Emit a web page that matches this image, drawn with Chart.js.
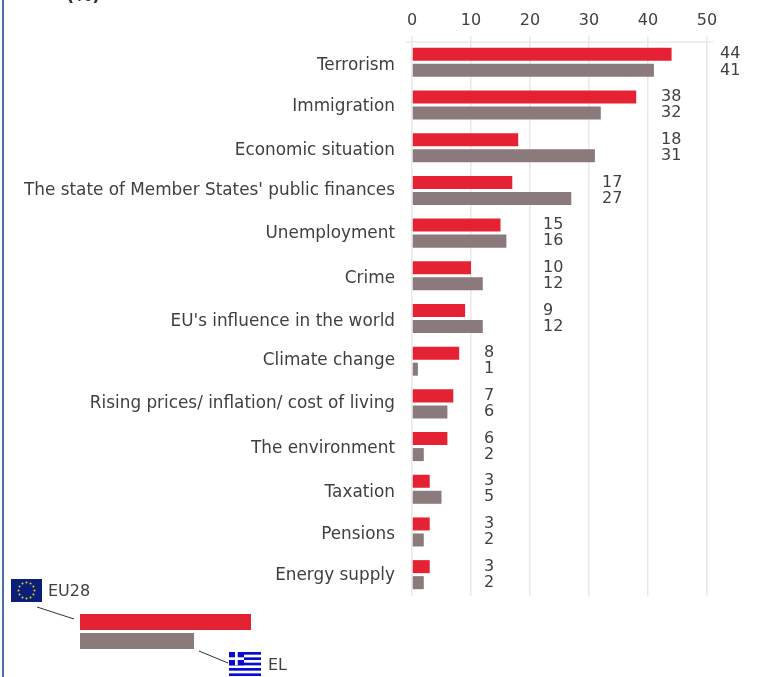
<!DOCTYPE html>
<html>
<head>
<meta charset="utf-8">
<script src="https://cdn.jsdelivr.net/npm/chart.js@4"></script>
<style>
  html, body { margin: 0; padding: 0; background: #fff; overflow: hidden; }
  canvas { display: block; }
</style>
</head>
<body>
<canvas id="topicsChart" width="760" height="677"></canvas>
<script>
const categories = ['Terrorism', 'Immigration', 'Economic situation', "The state of Member States' public finances",
    'Unemployment', 'Crime', "EU's influence in the world", 'Climate change',
    'Rising prices/ inflation/ cost of living', 'The environment', 'Taxation', 'Pensions', 'Energy supply'];
const eu28Values = [44, 38, 18, 17, 15, 10, 9, 8, 7, 6, 3, 3, 3];
const elValues = [41, 32, 31, 27, 16, 12, 12, 1, 6, 2, 5, 2, 2];
const xTicks = [0, 10, 20, 30, 40, 50];
const seriesNames = ['EU28', 'EL'];
const unitLabel = '(%)';

const RED = '#e52233';
const GREY = '#8a7a7c';
const TEXT = '#404040';
const GRID = '#e8e8e8';
const FONT = '"DejaVu Sans", sans-serif';

// the category labels in the original do not sit exactly on the row centres
const labelNudge = [3, 2, 3, 0, 1, 3, 3, -1, 0, 2, 3, 3, 1];

// the value labels sit in stepped columns, next ten above the longer bar
function labelColumn(i) {
    return Math.ceil(Math.max(eu28Values[i], elValues[i]) / 10) * 10 + 2.2;
}

const valueLabels = {
    id: 'valueLabels',
    afterDatasetsDraw(chart) {
        const ctx = chart.ctx;
        ctx.save();
        ctx.font = '16px ' + FONT;
        ctx.fillStyle = TEXT;
        ctx.textAlign = 'left';
        ctx.textBaseline = 'middle';
        chart.data.datasets.forEach((ds, d) => {
            chart.getDatasetMeta(d).data.forEach((bar, i) => {
                ctx.fillText(ds.data[i], chart.scales.x.getPixelForValue(labelColumn(i)), bar.y);
            });
        });
        // category labels
        ctx.font = '16.85px ' + FONT;
        ctx.textAlign = 'right';
        categories.forEach((name, i) => {
            ctx.fillText(name, chart.scales.x.left - 17, chart.scales.y.getPixelForValue(i) + labelNudge[i]);
        });
        ctx.restore();
    }
};

const decorations = {
    id: 'decorations',
    beforeDatasetsDraw(chart) {
        // axis rule overshoots the plot on both sides
        const ctx = chart.ctx, s = chart.scales.x;
        ctx.save();
        ctx.strokeStyle = GRID;
        ctx.lineWidth = 1.5;
        ctx.beginPath();
        ctx.moveTo(s.left - 6, chart.chartArea.top + 1);
        ctx.lineTo(s.right + 6, chart.chartArea.top + 1);
        ctx.stroke();
        ctx.restore();
    },
    afterDraw(chart) {
        const ctx = chart.ctx;
        ctx.save();
        // page frame
        ctx.fillStyle = '#4a6ea5';
        ctx.fillRect(2, 0, 2, 677);
        // clipped title unit
        ctx.fillStyle = '#333';
        ctx.font = 'bold 18px ' + FONT;
        ctx.textAlign = 'left';
        ctx.textBaseline = 'alphabetic';
        ctx.fillText(unitLabel, 66, 1);
        // key
        ctx.fillStyle = RED;
        ctx.fillRect(80, 614, 171, 16);
        ctx.fillStyle = GREY;
        ctx.fillRect(80, 633, 114, 16);
        ctx.strokeStyle = '#333';
        ctx.lineWidth = 1;
        ctx.beginPath();
        ctx.moveTo(37, 607); ctx.lineTo(74, 619);
        ctx.moveTo(199, 651); ctx.lineTo(228, 663);
        ctx.stroke();
        // EU flag
        ctx.fillStyle = '#0b1f7a';
        ctx.fillRect(11, 579, 31, 23);
        ctx.fillStyle = '#e8d020';
        for (let k = 0; k < 12; k++) {
            const a = k * Math.PI / 6;
            ctx.beginPath();
            ctx.arc(26.5 + 8 * Math.cos(a), 590.5 + 8 * Math.sin(a), 1, 0, 7);
            ctx.fill();
        }
        // Greek flag
        ctx.fillStyle = '#0a0ad0';
        for (let k = 0; k < 5; k++) ctx.fillRect(229, 652 + k * 5.34, 32, 2.67);
        ctx.fillRect(229, 652, 15, 13.3);
        ctx.fillStyle = '#fff';
        ctx.fillRect(235, 652, 2.7, 13.3);
        ctx.fillRect(229, 657.3, 15, 2.7);
        // key text
        ctx.fillStyle = TEXT;
        ctx.font = '16px ' + FONT;
        ctx.textBaseline = 'middle';
        ctx.fillText(seriesNames[0], 48, 592);
        ctx.fillText(seriesNames[1], 268, 666);
        ctx.restore();
    }
};

new Chart(document.getElementById('topicsChart'), {
    type: 'bar',
    data: {
        labels: categories,
        datasets: [
            { label: seriesNames[0], data: eu28Values, backgroundColor: RED },
            { label: seriesNames[1], data: elValues, backgroundColor: GREY }
        ]
    },
    options: {
        indexAxis: 'y',
        responsive: false,
        animation: false,
        categoryPercentage: 0.751,
        barPercentage: 0.8125,
        layout: { padding: { left: 0, right: 53, top: 0, bottom: 81 } },
        plugins: { legend: { display: false }, tooltip: { enabled: false } },
        scales: {
            x: {
                position: 'top',
                min: 0,
                max: 50,
                afterFit(scale) { scale.height = 41; },
                afterBuildTicks(scale) { scale.ticks = xTicks.map(v => ({ value: v })); },
                border: { display: false },
                grid: { color: GRID, lineWidth: 1.5, tickLength: 5 },
                ticks: { color: TEXT, font: { family: FONT, size: 16 }, padding: 6, maxRotation: 0 }
            },
            y: {
                afterFit(scale) { scale.width = 412; },
                border: { display: false },
                grid: { display: false },
                ticks: { display: false }
            }
        }
    },
    plugins: [valueLabels, decorations]
});
</script>
</body>
</html>
